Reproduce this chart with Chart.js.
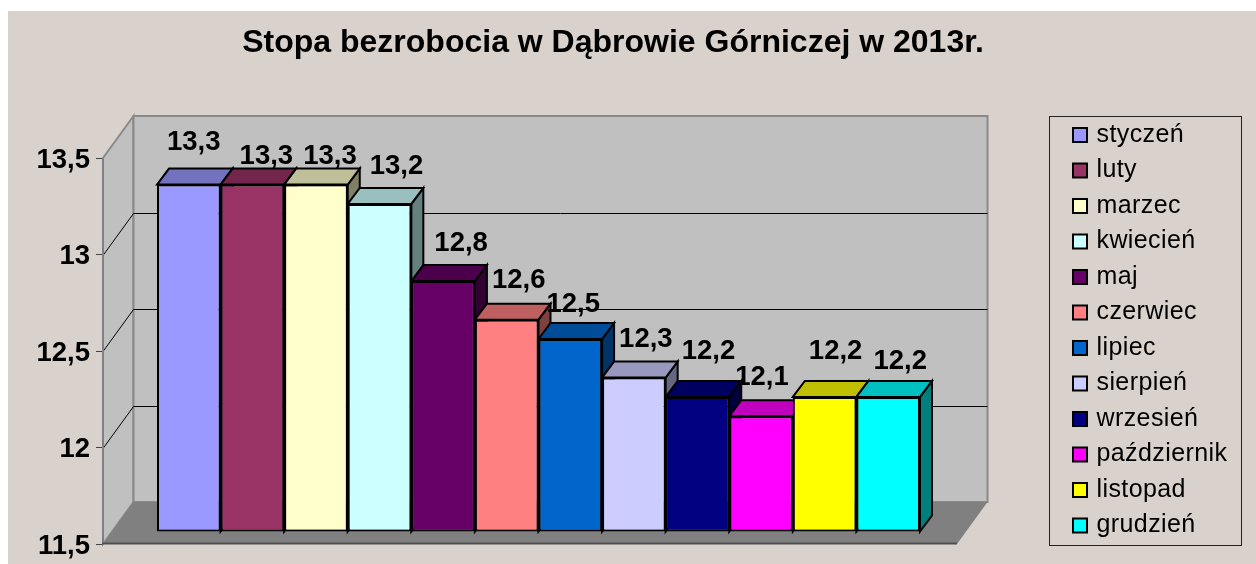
<!DOCTYPE html>
<html><head><meta charset="utf-8">
<style>html,body{margin:0;padding:0;background:#fff}canvas{display:block}</style>
<script src="https://cdn.jsdelivr.net/npm/chart.js@4"></script></head>
<body><canvas id="c" width="1256" height="564"></canvas>
<script>
const categories = [''];
const months = ['styczeń','luty','marzec','kwiecień','maj','czerwiec','lipiec','sierpień','wrzesień','październik','listopad','grudzień'];
const values = [13.3,13.3,13.3,13.2,12.8,12.6,12.5,12.3,12.2,12.1,12.2,12.2];
const colors = ['#9999FF','#993366','#FFFFCC','#CCFFFF','#660066','#FF8080','#0066CC','#CCCCFF','#000080','#FF00FF','#FFFF00','#00FFFF'];
// nudges of each value label from its default place above the bar
const labelNudge = [[5,-42],[14,-28],[14,-28],[17,-37],[18,-38],[12,-39],[3,-35],[12,-38],[11,-45],[1,-39],[11,-45],[12,-35]];
const AXIS_MIN = 11.5, AXIS_MAX = 13.5, AXIS_STEP = 0.5;
const BG='#D9D1CB', WALL='#C0C0C0', FLOOR='#808080', EDGE='#8A8A8A';
const BACK={x:30.5,y:-42}, FRONT={x:8.5,y:-12}, DEPTH={x:12,y:-16};

function shade(hex,k){const n=parseInt(hex.slice(1),16);
  return `rgb(${(n>>16&255)*k|0},${(n>>8&255)*k|0},${(n&255)*k|0})`;}
function poly(ctx,pts,fill,stroke,lw){ctx.beginPath();pts.forEach((p,i)=>i?ctx.lineTo(p[0],p[1]):ctx.moveTo(p[0],p[1]));ctx.closePath();
  if(fill){ctx.fillStyle=fill;ctx.fill();}
  if(stroke){ctx.strokeStyle=stroke;ctx.lineWidth=lw;ctx.lineJoin='miter';ctx.stroke();}}

const threeD={id:'threeD',
  beforeLayout(chart){
    const l=chart.legend;
    if(l&&!l._patched){l._patched=true;
      const f=l.fit;l.fit=function(){this.maxHeight=1000;f.call(this);this.width=299;this.height=400;};
      const d=l.draw;l.draw=function(a){chart.ctx.letterSpacing='0.4px';d.call(this,a);chart.ctx.letterSpacing='0px';};
    }
  },
  afterLayout(chart){
    const l=chart.legend;l.left=1065.5;l.right=1241;l.top=112;l.bottom=564;
    const t=chart.titleBlock;t.left=0;t.right=1226;
  },
  beforeDraw(chart){
    const c=chart.ctx;c.save();c.fillStyle='#fff';c.fillRect(0,0,1256,564);
    c.fillStyle=BG;c.fillRect(8,11,1248,553);
    c.strokeStyle='#222';c.lineWidth=1;c.strokeRect(1049.5,116.5,192,429);
    c.restore();
  },
  beforeDatasetsDraw(chart){
    const c=chart.ctx,{left:L,right:R,top:T,bottom:B}=chart.chartArea,y=chart.scales.y;
    c.save();
    // left wall, back wall, floor
    poly(c,[[L,T],[L+BACK.x,T+BACK.y],[L+BACK.x,B+BACK.y],[L,B]],WALL,EDGE,2);
    poly(c,[[L+BACK.x,T+BACK.y],[R+BACK.x,T+BACK.y],[R+BACK.x,B+BACK.y],[L+BACK.x,B+BACK.y]],WALL,EDGE,2);
    poly(c,[[L,B],[L+BACK.x,B+BACK.y],[R+BACK.x,B+BACK.y],[R,B]],FLOOR,null,0);
    // grid lines
    c.strokeStyle='#000';c.lineWidth=1;c.beginPath();
    y.ticks.forEach(t=>{ if(t.value===y.min||t.value===y.max)return;
      const p=Math.round(y.getPixelForValue(t.value))+0.5;
      c.moveTo(L,p);c.lineTo(L+BACK.x,p+BACK.y);c.lineTo(R+BACK.x,p+BACK.y);});
    c.stroke();
    // axis lines at the front edge
    c.strokeStyle='#808080';c.lineWidth=2;c.beginPath();c.moveTo(L,T);c.lineTo(L,B);c.stroke();
    c.strokeStyle='#505050';c.lineWidth=2;c.beginPath();c.moveTo(L-1,B-0.5);c.lineTo(R,B-0.5);c.stroke();
    c.restore();
    // bars live on a plane shifted into the depth of the box
    c.save();c.translate(FRONT.x,FRONT.y);
    chart.data.datasets.forEach((ds,i)=>{
      const b=chart.getDatasetMeta(i).data[0],p=b.getProps(['x','y','base','width']);
      const x0=p.x-p.width/2,x1=p.x+p.width/2,d=DEPTH;
      poly(c,[[x1,p.y],[x1+d.x,p.y+d.y],[x1+d.x,p.base+d.y],[x1,p.base]],shade(colors[i],.5),'#000',2);
      poly(c,[[x0,p.y],[x0+d.x,p.y+d.y],[x1+d.x,p.y+d.y],[x1,p.y]],shade(colors[i],.75),'#000',2);
    });
  },
  afterDatasetsDraw(chart){
    const c=chart.ctx;c.restore();
    c.save();c.font='bold 27.5px "Liberation Sans"';c.fillStyle='#000';c.textAlign='center';c.textBaseline='middle';
    chart.data.datasets.forEach((ds,i)=>{
      const b=chart.getDatasetMeta(i).data[0],p=b.getProps(['x','y']);
      c.fillText(String(ds.data[0]).replace('.',','),p.x+FRONT.x+labelNudge[i][0],p.y+FRONT.y+labelNudge[i][1]);
    });
    c.restore();
  }
};

new Chart(document.getElementById('c'),{
  type:'bar',
  data:{labels:categories,datasets:months.map((m,i)=>({label:m,data:[values[i]],base:AXIS_MIN,backgroundColor:colors[i],
    borderColor:'#000',borderWidth:2,borderSkipped:false,clip:false}))},
  options:{responsive:false,animation:false,
    layout:{padding:{left:0,right:0,top:0,bottom:20}},
    datasets:{bar:{categoryPercentage:763/854,barPercentage:1}},
    plugins:{
      tooltip:{enabled:false},
      title:{display:true,text:'Stopa bezrobocia w Dąbrowie Górniczej w 2013r.',color:'#000',
        font:{family:'"Liberation Sans"',size:32,weight:'bold'},padding:{top:24,bottom:95.6}},
      legend:{display:true,position:'right',align:'start',fullSize:true,
        labels:{color:'#000',font:{family:'"Liberation Sans"',size:25},usePointStyle:true,pointStyle:'rect',boxWidth:8,boxHeight:14,padding:10.5}}
    },
    scales:{
      x:{display:false},
      y:{min:AXIS_MIN,max:AXIS_MAX,afterFit(s){s.width=103;s.paddingTop=0;s.paddingBottom=0;},
        border:{display:false},
        grid:{drawOnChartArea:false,drawTicks:true,tickLength:7,color:'#444',tickWidth:1},
        ticks:{stepSize:AXIS_STEP,padding:6,labelOffset:2,color:'#000',font:{family:'"Liberation Sans"',size:27.5,weight:'bold'},
          callback:v=>String(v).replace('.',',')}}
    }
  },
  plugins:[threeD]
});
</script></body></html>
